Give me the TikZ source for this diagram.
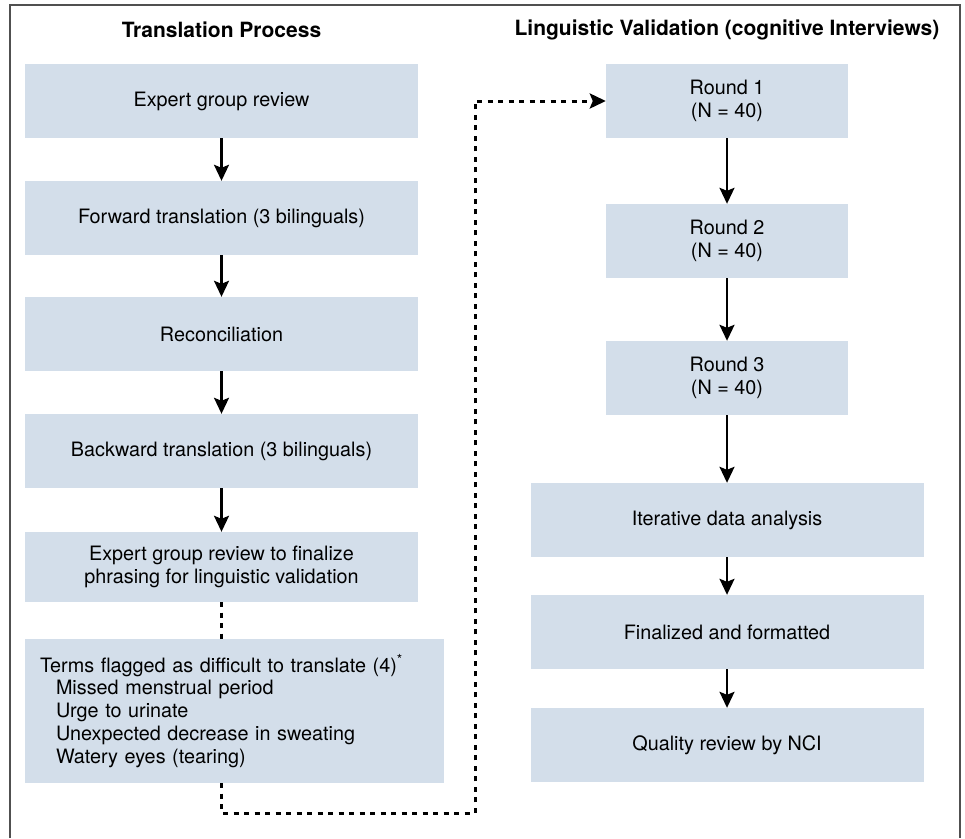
\documentclass[tikz,border=0pt]{standalone}
\usepackage{fontspec}
\setmainfont{TeX Gyre Heros}
\usetikzlibrary{arrows.meta}
\definecolor{boxblue}{RGB}{211,222,234}
\definecolor{framegray}{RGB}{80,80,80}
\tikzset{
	block/.style      = {fill=boxblue, rectangle, minimum height=74pt, minimum width=393pt, align=center, font=\fontsize{19.8}{22.8}\selectfont},
	roundblock/.style = {block, minimum width=242pt},
	termsblock/.style = {block, minimum width=419pt, minimum height=144pt, text width=389pt, align=left, inner sep=15pt},
	heading/.style    = {font=\fontsize{21}{24}\selectfont\bfseries},
	hidden/.style     = {coordinate},
	link/.style       = {->, line width=2.3pt},
	dotlink/.style    = {line width=3pt, dash pattern=on 5pt off 5.5pt},
}

\begin{document}
\begin{tikzpicture}[x=1pt, y=-1pt, >={Stealth[length=16pt, width=15pt, inset=3pt]}]
		\useasboundingbox (0,0) rectangle (965,838);
		% Outer frame, open at the bottom
		\draw[framegray, line width=2pt] (10,838) |- (960,5) -- (960,838);

		% Column headings
		\node[heading] (lefttitle)  at (221.5,30) {Translation Process};
		\node[heading] (righttitle) at (727,30)   {Linguistic Validation (cognitive Interviews)};

		% Draw the translation process nodes
		\node[block] (review) at (221.5,101) {Expert group review};
		\node[block, below of = review   , node distance = 117pt] (forward)   {Forward translation (3 bilinguals)};
		\node[block, below of = forward  , node distance = 116pt] (reconcile) {Reconciliation};
		\node[block, below of = reconcile, node distance = 117pt] (backward)  {Backward translation (3 bilinguals)};
		\node[block, below of = backward , node distance = 116pt, minimum height = 70pt] (finalize)
			{Expert group review to finalize\\phrasing for linguistic validation};
		\node[termsblock, below of = finalize, node distance = 144pt, xshift = 13pt] (terms)
			{Terms flagged as difficult to translate (4)\textsuperscript{*}\\
			\hspace*{16pt}Missed menstrual period\\
			\hspace*{16pt}Urge to urinate\\
			\hspace*{16pt}Unexpected decrease in sweating\\
			\hspace*{16pt}Watery eyes (tearing)};

		% Draw the linguistic validation nodes
		\node[roundblock] (round1) at (727,101) {Round 1\\(N = 40)};
		\node[roundblock, below of = round1, node distance = 140pt] (round2) {Round 2\\(N = 40)};
		\node[roundblock, below of = round2, node distance = 137pt] (round3) {Round 3\\(N = 40)};
		\node[block, below of = round3   , node distance = 142pt] (analysis)  {Iterative data analysis};
		\node[block, below of = analysis , node distance = 112pt] (finalized) {Finalized and formatted};
		\node[block, below of = finalized, node distance = 113pt] (quality)   {Quality review by NCI};

		\coordinate[hidden] (lowturn) at (475,813);

		% Connect everything together
		\draw[link] (review) -- (forward);
		\draw[link] (forward) -- (reconcile);
		\draw[link] (reconcile) -- (backward);
		\draw[link] (backward) -- (finalize);
		\draw[dotlink] (finalize.south) -- (finalize.south |- terms.north);
		\draw[dotlink, ->] (finalize.south |- terms.south) |- (lowturn) |- (round1.west);

		\draw[link] (round1) -- (round2);
		\draw[link] (round2) -- (round3);
		\draw[link] (round3) -- (analysis);
		\draw[link] (analysis) -- (finalized);
		\draw[link] (finalized) -- (quality);
	\end{tikzpicture}
\end{document}
